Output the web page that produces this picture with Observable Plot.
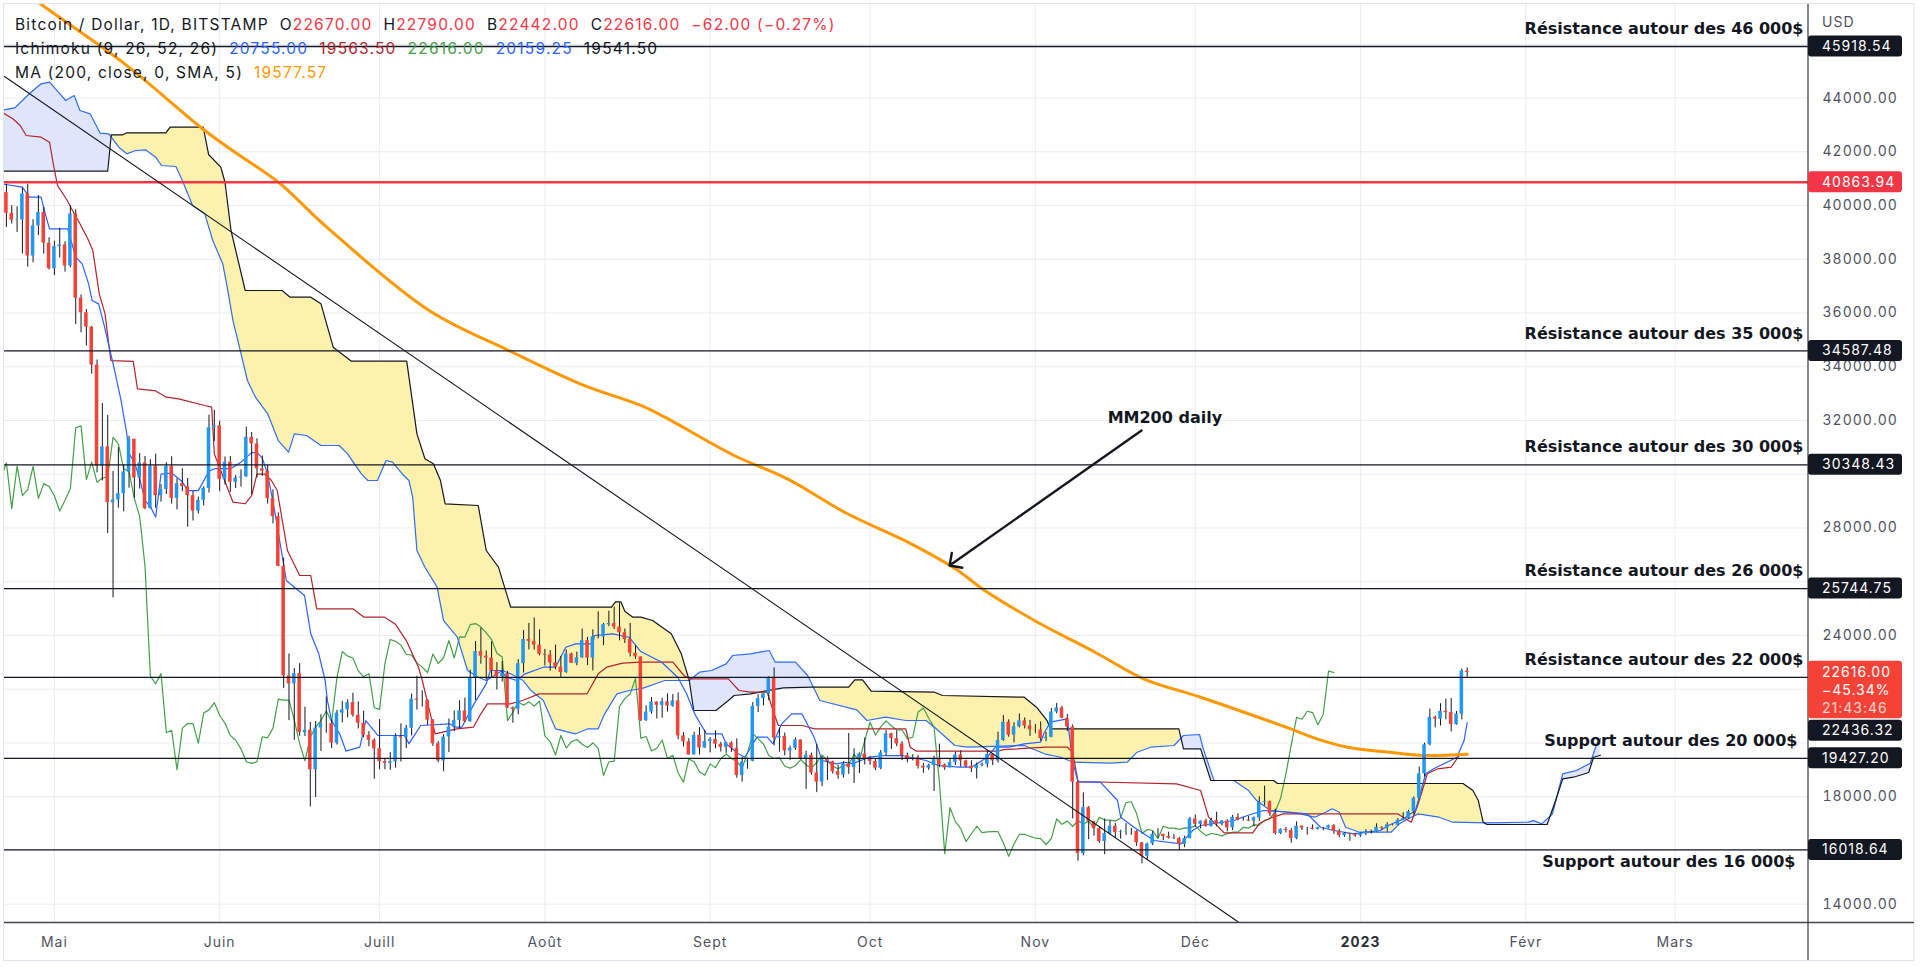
<!DOCTYPE html>
<html><head><meta charset="utf-8">
<script src="https://cdn.jsdelivr.net/npm/d3@7"></script>
<script src="https://cdn.jsdelivr.net/npm/@observablehq/plot@0.6"></script>
<style>
html,body{margin:0;padding:0;background:#fff;overflow:hidden;}
#wrap{position:relative;width:1920px;height:967px;}
#legend{position:absolute;left:15px;top:13px;font-family:Inter,sans-serif;font-size:15.5px;letter-spacing:1.2px;color:#131722;pointer-events:none;}
#legend div{height:24px;line-height:24px;white-space:nowrap;}
#legend span{margin-right:11px;}
#legend span.k{margin-right:0;}
svg [aria-label^="x-axis"] text, svg [aria-label^="y-axis"] text{letter-spacing:1px;}
</style></head>
<body><div id="wrap"><div id="chart"></div><div id="legend"></div></div>
<script>
// ---------- DATA ----------
const candles = [
["2022-04-21",41373,42976,39800,40480],["2022-04-22",40480,40800,39180,39710],["2022-04-23",39710,39990,39310,39450],["2022-04-24",39450,39950,39000,39460],["2022-04-25",39460,40630,38200,40430],["2022-04-26",40430,40790,37710,38120],["2022-04-27",38120,39470,37870,39240],["2022-04-28",39240,40370,38880,39740],["2022-04-29",39740,39930,38190,38600],["2022-04-30",38600,38800,37600,37650],
["2022-05-01",37650,38670,37390,38470],["2022-05-02",38470,39150,38050,38530],["2022-05-03",38530,38650,37520,37750],["2022-05-04",37750,39990,37680,39690],["2022-05-05",39690,39840,35570,36550],["2022-05-06",36550,36670,35260,36010],["2022-05-07",36010,36130,34770,35470],["2022-05-08",35470,35500,33720,34060],["2022-05-09",34060,34250,30050,30300],["2022-05-10",30300,32630,29750,31020],["2022-05-11",31020,32190,27790,28940],["2022-05-12",28940,30100,25400,29040],["2022-05-13",29040,30990,28740,29280],["2022-05-14",29280,30330,28600,30080],["2022-05-15",30080,31410,29480,31300],["2022-05-16",31300,31300,29100,29860],["2022-05-17",29860,30770,29450,30420],["2022-05-18",30420,30660,28680,28720],["2022-05-19",28720,30540,28700,30300],["2022-05-20",30300,30750,28730,29200],["2022-05-21",29200,29610,28960,29430],["2022-05-22",29430,30430,29250,30290],["2022-05-23",30290,30650,28890,29100],["2022-05-24",29100,29830,28670,29650],["2022-05-25",29650,30200,29350,29540],["2022-05-26",29540,29840,28030,29200],["2022-05-27",29200,29360,28260,28630],["2022-05-28",28630,29150,28520,29030],["2022-05-29",29030,29530,28820,29470],["2022-05-30",29470,32200,29300,31730],["2022-05-31",31730,32380,31220,31800],
["2022-06-01",31800,31970,29350,29800],["2022-06-02",29800,30640,29600,30450],["2022-06-03",30450,30660,29320,29700],["2022-06-04",29700,29950,29470,29860],["2022-06-05",29860,30160,29520,29900],["2022-06-06",29900,31750,29890,31370],["2022-06-07",31370,31550,29230,31130],["2022-06-08",31130,31320,29860,30200],["2022-06-09",30200,30680,29920,30110],["2022-06-10",30110,30330,28890,29090],["2022-06-11",29090,29420,28150,28420],["2022-06-12",28420,28560,26560,26570],["2022-06-13",26570,26880,22030,22490],["2022-06-14",22490,23310,20830,22200],["2022-06-15",22200,22770,20100,22580],["2022-06-16",22580,22950,20250,20380],["2022-06-17",20380,21330,20240,20470],["2022-06-18",20470,20760,17620,19000],["2022-06-19",19000,20800,17970,20550],["2022-06-20",20550,21050,19680,20720],["2022-06-21",20720,21710,20360,20720],["2022-06-22",20720,20860,19790,19990],["2022-06-23",19990,21210,19920,21110],["2022-06-24",21110,21550,20750,21230],["2022-06-25",21230,21600,20930,21500],["2022-06-26",21500,21850,20960,21030],["2022-06-27",21030,21530,20520,20730],["2022-06-28",20730,21180,20190,20280],["2022-06-29",20280,20420,19860,20100],["2022-06-30",20100,20160,18650,19780],
["2022-07-01",19780,20870,19000,19300],["2022-07-02",19300,19420,19000,19240],["2022-07-03",19240,19640,18980,19300],["2022-07-04",19300,20340,19060,20230],["2022-07-05",20230,20710,19290,20190],["2022-07-06",20190,20650,19790,20550],["2022-07-07",20550,21820,20260,21630],["2022-07-08",21630,22480,21220,21590],["2022-07-09",21590,21940,21330,21590],["2022-07-10",21590,21600,20660,20850],["2022-07-11",20850,20870,19870,19970],["2022-07-12",19970,20050,19260,19330],["2022-07-13",19330,20310,18930,20220],["2022-07-14",20220,20890,19640,20590],["2022-07-15",20590,21190,20420,20830],["2022-07-16",20830,21570,20530,21190],["2022-07-17",21190,21670,20760,20790],["2022-07-18",20790,22710,20770,22430],["2022-07-19",22430,23770,21580,23400],["2022-07-20",23400,24270,22930,23230],["2022-07-21",23230,23420,22340,23160],["2022-07-22",23160,23760,22450,22680],["2022-07-23",22680,22990,21970,22460],["2022-07-24",22460,23030,22270,22580],["2022-07-25",22580,22660,21280,21310],["2022-07-26",21310,21340,20730,21250],["2022-07-27",21250,23100,21050,22950],["2022-07-28",22950,24180,22600,23850],["2022-07-29",23850,24450,23460,23780],["2022-07-30",23780,24650,23450,23640],["2022-07-31",23640,24210,23240,23300],
["2022-08-01",23300,23480,22860,23270],["2022-08-02",23270,23440,22670,22980],["2022-08-03",22980,23640,22720,22820],["2022-08-04",22820,23220,22440,22620],["2022-08-05",22620,23460,22590,23310],["2022-08-06",23310,23340,22960,22960],["2022-08-07",22960,23380,22870,23170],["2022-08-08",23170,24240,23150,23810],["2022-08-09",23810,23930,22880,23160],["2022-08-10",23160,24210,22680,23950],["2022-08-11",23950,24880,23870,23940],["2022-08-12",23940,24450,23620,24400],["2022-08-13",24400,24900,24330,24440],["2022-08-14",24440,25050,24220,24310],["2022-08-15",24310,25200,23800,24100],["2022-08-16",24100,24240,23700,23850],["2022-08-17",23850,24450,23200,23340],["2022-08-18",23340,23610,23110,23200],["2022-08-19",23200,23200,20790,20830],["2022-08-20",20830,21380,20800,21150],["2022-08-21",21150,21690,21070,21520],["2022-08-22",21520,21530,20890,21400],["2022-08-23",21400,21660,20920,21530],["2022-08-24",21530,21830,21150,21370],["2022-08-25",21370,21800,21330,21560],["2022-08-26",21560,21860,20120,20260],["2022-08-27",20260,20380,19850,20040],["2022-08-28",20040,20160,19550,19550],["2022-08-29",19550,20400,19550,20280],["2022-08-30",20280,20570,19550,19810],["2022-08-31",19810,20470,19800,20050],
["2022-09-01",20050,20200,19630,20130],["2022-09-02",20130,20450,19780,19950],["2022-09-03",19950,20020,19660,19830],["2022-09-04",19830,20010,19610,20000],["2022-09-05",20000,20040,19650,19800],["2022-09-06",19800,20150,18690,18790],["2022-09-07",18790,19460,18540,19290],["2022-09-08",19290,19430,19020,19320],["2022-09-09",19320,21500,19300,21360],["2022-09-10",21360,21790,21130,21650],["2022-09-11",21650,21830,21380,21830],["2022-09-12",21830,22460,21570,22400],["2022-09-13",22400,22790,19890,20180],["2022-09-14",20180,20550,19660,20240],["2022-09-15",20240,20370,19520,19700],["2022-09-16",19700,19880,19350,19800],["2022-09-17",19800,20190,19720,20110],["2022-09-18",20110,20110,19370,19420],["2022-09-19",19420,19690,18270,19540],["2022-09-20",19540,19620,18800,18880],["2022-09-21",18880,19950,18150,18540],["2022-09-22",18540,19490,18370,19400],["2022-09-23",19400,19480,18600,19300],["2022-09-24",19300,19320,18840,18930],["2022-09-25",18930,19170,18650,18800],["2022-09-26",18800,19300,18690,19220],["2022-09-27",19220,20350,18830,19080],["2022-09-28",19080,19780,18490,19410],["2022-09-29",19410,19630,18860,19590],["2022-09-30",19590,20180,19180,19420],
["2022-10-01",19420,19480,19170,19310],["2022-10-02",19310,19400,18970,19060],["2022-10-03",19060,19720,19000,19630],["2022-10-04",19630,20460,19520,20340],["2022-10-05",20340,20360,19760,20160],["2022-10-06",20160,20450,19860,19960],["2022-10-07",19960,20050,19340,19530],["2022-10-08",19530,19620,19260,19420],["2022-10-09",19420,19560,19330,19450],["2022-10-10",19450,19530,19030,19130],["2022-10-11",19130,19240,18870,19060],["2022-10-12",19060,19210,18980,19160],["2022-10-13",19160,19510,18190,19380],["2022-10-14",19380,19950,19080,19180],["2022-10-15",19180,19220,18980,19070],["2022-10-16",19070,19420,19070,19270],["2022-10-17",19270,19660,19160,19550],["2022-10-18",19550,19700,19100,19330],["2022-10-19",19330,19360,19080,19130],["2022-10-20",19130,19340,18900,19040],["2022-10-21",19040,19250,18660,19160],["2022-10-22",19160,19260,19110,19200],["2022-10-23",19200,19700,19070,19570],["2022-10-24",19570,19600,19160,19330],["2022-10-25",19330,20400,19250,20090],["2022-10-26",20090,21020,20060,20770],["2022-10-27",20770,20860,20210,20290],["2022-10-28",20290,20750,20000,20600],["2022-10-29",20600,21080,20560,20820],["2022-10-30",20820,20930,20520,20630],["2022-10-31",20630,20840,20240,20490],
["2022-11-01",20490,20690,20340,20480],["2022-11-02",20480,20780,20060,20160],["2022-11-03",20160,20390,20050,20210],["2022-11-04",20210,21280,20190,21150],["2022-11-05",21150,21470,21080,21300],["2022-11-06",21300,21360,20900,20920],["2022-11-07",20920,21060,20420,20590],["2022-11-08",20590,20670,17170,18540],["2022-11-09",18540,18590,15600,15880],["2022-11-10",15880,18140,15800,17590],["2022-11-11",17590,17630,16400,17070],["2022-11-12",17070,17080,16530,16810],["2022-11-13",16810,16890,16260,16330],["2022-11-14",16330,17170,15840,16620],["2022-11-15",16620,17100,16570,16900],["2022-11-16",16900,17000,16440,16660],["2022-11-17",16660,16750,16420,16690],["2022-11-18",16690,17000,16560,16700],["2022-11-19",16700,16820,16560,16700],["2022-11-20",16700,16740,16150,16280],["2022-11-21",16280,16300,15500,15780],["2022-11-22",15780,16270,15630,16240],["2022-11-23",16240,16700,16180,16600],["2022-11-24",16600,16810,16460,16600],["2022-11-25",16600,16600,16360,16520],["2022-11-26",16520,16680,16420,16460],["2022-11-27",16460,16600,16400,16440],["2022-11-28",16440,16480,16000,16220],["2022-11-29",16220,16530,16100,16440],["2022-11-30",16440,17230,16430,17170],
["2022-12-01",17170,17320,16860,16970],["2022-12-02",16970,17100,16800,17090],["2022-12-03",17090,17160,16860,16890],["2022-12-04",16890,17200,16870,17110],["2022-12-05",17110,17420,16880,16970],["2022-12-06",16970,17110,16910,17090],["2022-12-07",17090,17140,16690,16840],["2022-12-08",16840,17300,16740,17230],["2022-12-09",17230,17360,17100,17130],["2022-12-10",17130,17230,17090,17130],["2022-12-11",17130,17260,17070,17090],["2022-12-12",17090,17240,16880,17210],["2022-12-13",17210,18000,17080,17780],["2022-12-14",17780,18390,17650,17810],["2022-12-15",17810,17840,17270,17360],["2022-12-16",17360,17530,16570,16630],["2022-12-17",16630,16800,16590,16780],["2022-12-18",16780,16850,16650,16740],["2022-12-19",16740,16810,16270,16440],["2022-12-20",16440,17060,16400,16900],["2022-12-21",16900,16910,16740,16830],["2022-12-22",16830,16860,16570,16830],["2022-12-23",16830,16950,16760,16780],["2022-12-24",16780,16860,16760,16840],["2022-12-25",16840,16860,16730,16830],["2022-12-26",16830,16940,16800,16920],["2022-12-27",16920,16960,16600,16710],["2022-12-28",16710,16780,16470,16550],["2022-12-29",16550,16660,16490,16630],["2022-12-30",16630,16640,16340,16600],["2022-12-31",16600,16640,16490,16540],
["2023-01-01",16540,16640,16490,16620],["2023-01-02",16620,16770,16550,16680],["2023-01-03",16680,16760,16610,16680],["2023-01-04",16680,16990,16660,16860],["2023-01-05",16860,16880,16760,16830],["2023-01-06",16830,17030,16680,16950],["2023-01-07",16950,16960,16910,16940],["2023-01-08",16940,17180,16920,17120],["2023-01-09",17120,17400,17100,17180],["2023-01-10",17180,17490,17150,17440],["2023-01-11",17440,17990,17320,17940],["2023-01-12",17940,19100,17920,18850],["2023-01-13",18850,19990,18730,19930],["2023-01-14",19930,21260,19890,20950],["2023-01-15",20950,21000,20560,20880],["2023-01-16",20880,21460,20630,21180],["2023-01-17",21180,21630,20860,21130],["2023-01-18",21130,21650,20410,20680],["2023-01-19",20680,21170,20660,21070],["2023-01-20",21070,22750,20860,22678],["2023-01-21",22670,22790,22442,22616]
];

const tenkan = [
["2022-04-21",40808],["2022-04-25",40683],["2022-04-26T07:00",40311],["2022-04-28T12:00",40311],["2022-04-29T07:00",39691],["2022-04-30T02:00",39133],["2022-05-03T12:00",39133],["2022-05-05",38078],["2022-05-06T05:00",37830],["2022-05-07T10:00",37086],["2022-05-08T02:00",36465],["2022-05-09T07:00",36340],["2022-05-10T10:00",35472],["2022-05-11T14:00",34482],["2022-05-12T07:00",33861],["2022-05-13T12:00",32744],["2022-05-14T14:00",31504],["2022-05-15",30765],["2022-05-16",30450],["2022-05-17",29825],["2022-05-18",29015],["2022-05-19",28795],["2022-05-20",28405],["2022-05-21",30005],["2022-05-23",30045],["2022-05-25",29720],["2022-05-26",29390],["2022-05-28",29390],["2022-05-30",30115],["2022-05-31",30205],["2022-06-03",30205],["2022-06-04",30320],["2022-06-05",30450],["2022-06-07",30805],["2022-06-08",30805],["2022-06-09",30600],["2022-06-10",30000],["2022-06-11T10:00",28527],["2022-06-13T12:00",26044],["2022-06-15",25796],["2022-06-16T22:00",25486],["2022-06-18T02:00",24061],["2022-06-19T14:00",23316],["2022-06-20T19:00",22323],["2022-06-21T05:00",21578],["2022-06-22",20834],["2022-06-23T12:00",20339],["2022-06-24T17:00",19692],["2022-06-27T07:00",19841],["2022-06-28T10:00",20834],["2022-06-30T17:00",20276],["2022-07-05T17:00",20276],["2022-07-06T12:00",19967],["2022-07-08T17:00",20648],["2022-07-14T02:00",20710],["2022-07-15T05:00",20585],["2022-07-16T10:00",20585],["2022-07-18T17:00",21454],["2022-07-21",22198],["2022-07-21T19:00",22695],["2022-07-23T17:00",22695],["2022-07-24T19:00",22446],["2022-07-26T17:00",22323],["2022-07-28T07:00",22571],["2022-07-31T17:00",22818],["2022-08-03",22818],["2022-08-04T22:00",23562],["2022-08-06T19:00",23686],["2022-08-10",23686],["2022-08-10T07:00",23997],["2022-08-13T17:00",24061],["2022-08-16T19:00",23934],["2022-08-19",23400],["2022-08-22T22:00",23004],["2022-08-25T22:00",22446],["2022-08-27T14:00",21827],["2022-08-29T02:00",21083],["2022-08-31T07:00",20339],["2022-09-03T05:00",20339],["2022-09-04",19967],["2022-09-06T07:00",19595],["2022-09-07T12:00",19468],["2022-09-09",19967],["2022-09-09T19:00",20214],["2022-09-11T17:00",20214],["2022-09-12T19:00",19967],["2022-09-14T10:00",20710],["2022-09-16T07:00",21083],["2022-09-18T05:00",21083],["2022-09-20T12:00",20214],["2022-09-22",19345],["2022-09-24T17:00",19222],["2022-09-26T05:00",19280],["2022-09-27T17:00",19222],["2022-09-30T19:00",19468],["2022-10-03T22:00",19531],["2022-10-07",19531],["2022-10-08T12:00",19468],["2022-10-11T12:00",19345],["2022-10-13T19:00",19159],["2022-10-17T17:00",19096],["2022-10-20",19096],["2022-10-23",19468],["2022-10-24T12:00",19841],["2022-10-27",19841],["2022-10-29T22:00",19967],["2022-11-02",20029],["2022-11-02T14:00",20339],["2022-11-03T19:00",20771],["2022-11-07",20895],["2022-11-08",19300],["2022-11-09",18538],["2022-11-13T05:00",18538],["2022-11-16T10:00",17857],["2022-11-17",17236],["2022-11-19T12:00",16863],["2022-11-23T07:00",16368],["2022-11-28T07:00",16245],["2022-11-30T12:00",16740],["2022-12-02",16926],["2022-12-08T07:00",17112],["2022-12-10T19:00",17299],["2022-12-13T19:00",17485],["2022-12-18T22:00",17421],["2022-12-22",17361],["2022-12-24T12:00",16863],["2022-12-27",16740],["2022-12-30T17:00",16616],["2023-01-02T07:00",16677],["2023-01-04T17:00",16740],["2023-01-06T14:00",16963],["2023-01-09T02:00",17175],["2023-01-11T07:00",17485],["2023-01-13T05:00",18850],["2023-01-14T17:00",19036],["2023-01-17T05:00",19282],["2023-01-19T02:00",19468],["2023-01-20T10:00",20090],["2023-01-21",20755]
];

const kijun = [
["2022-04-21",43493],["2022-04-23T05:00",43227],["2022-04-24T14:00",42977],["2022-04-25T17:00",42605],["2022-04-28T12:00",42543],["2022-04-30T02:00",42357],["2022-04-30T19:00",41552],["2022-05-01T14:00",40745],["2022-05-03T10:00",40187],["2022-05-04T05:00",39878],["2022-05-05T19:00",39319],["2022-05-07T10:00",38698],["2022-05-08T05:00",38326],["2022-05-09T10:00",36713],["2022-05-10T12:00",35969],["2022-05-11T14:00",34231],["2022-05-15T19:00",34200],["2022-05-16T14:00",33179],["2022-05-20",33100],["2022-05-22",32866],["2022-05-24T07:00",32806],["2022-05-29T05:00",32557],["2022-05-30T12:00",32500],["2022-05-31",30750],["2022-06-03T12:00",28960],["2022-06-05T19:00",28900],["2022-06-07",29208],["2022-06-08",30000],["2022-06-09T12:00",30000],["2022-06-10T17:00",29766],["2022-06-11T19:00",29394],["2022-06-13T17:00",27161],["2022-06-16",26230],["2022-06-18T02:00",26230],["2022-06-19T05:00",24990],["2022-06-26",24990],["2022-06-28T02:00",24679],["2022-07-01T22:00",24679],["2022-07-03T22:00",24430],["2022-07-06",23810],["2022-07-08T07:00",22818],["2022-07-09",22323],["2022-07-10T05:00",21329],["2022-07-11T10:00",20339],["2022-07-15T12:00",20525],["2022-07-18T14:00",20585],["2022-07-20",21083],["2022-07-21T05:00",21454],["2022-07-25T12:00",21454],["2022-07-27T19:00",21578],["2022-07-30T22:00",21827],["2022-08-08T22:00",21827],["2022-08-11",22571],["2022-08-12T14:00",22818],["2022-08-15T14:00",22967],["2022-08-19",23004],["2022-08-25",23004],["2022-08-27T02:00",22509],["2022-08-28T02:00",22385],["2022-09-04T10:00",22385],["2022-09-06T10:00",21951],["2022-09-08T14:00",21888],["2022-09-11T17:00",21888],["2022-09-13",21083],["2022-09-13T19:00",20648],["2022-09-18T07:00",20648],["2022-09-20T14:00",20525],["2022-10-07T17:00",20525],["2022-10-08T12:00",19841],["2022-10-09T17:00",19692],["2022-10-25",19692],["2022-10-26",19750],["2022-11-03",19841],["2022-11-07",19841],["2022-11-08",19655],["2022-11-09",18564],["2022-11-27T12:00",18478],["2022-12-02",18229],["2022-12-03T12:00",17236],["2022-12-06T10:00",16650],["2022-12-11T19:00",16650],["2022-12-13",17000],["2022-12-15",17200],["2022-12-17T12:00",17361],["2023-01-07T22:00",17361],["2023-01-10T12:00",17050],["2023-01-11T17:00",17671],["2023-01-13",18500],["2023-01-13T12:00",18850],["2023-01-15T12:00",19036],["2023-01-18",19099],["2023-01-19T12:00",19531],["2023-01-21",19563.5]
];

const senkouA = [
["2022-04-21T12:00",43562],["2022-04-23T14:00",43636],["2022-04-26T07:00",44158],["2022-04-28T12:00",44530],["2022-04-30T02:00",44590],["2022-05-01T05:00",44343],["2022-05-03T03:00",43908],["2022-05-04T17:00",44094],["2022-05-05T19:00",43536],["2022-05-07T17:00",43412],["2022-05-09T14:00",42691],["2022-05-11T05:00",42667],["2022-05-13T02:00",42171],["2022-05-14T14:00",41924],["2022-05-16T05:00",42047],["2022-05-18T02:00",42072],["2022-05-20",41799],["2022-05-21T02:00",41490],["2022-05-23T19:00",41452],["2022-05-25",40931],["2022-05-26T22:00",40001],["2022-05-29T05:00",39691],["2022-05-30T17:00",38697],["2022-06-01T14:00",37830],["2022-06-02T10:00",36960],["2022-06-03T12:00",35720],["2022-06-04T17:00",34727],["2022-06-06T05:00",33488],["2022-06-07T17:00",32866],["2022-06-10",32248],["2022-06-12",31254],["2022-06-13T22:00",30819],["2022-06-15",31504],["2022-06-17T07:00",31440],["2022-06-20",31068],["2022-06-23T10:00",31068],["2022-06-25",30759],["2022-06-27T14:00",30014],["2022-06-28T19:00",29766],["2022-06-30T14:00",29766],["2022-07-02T05:00",30511],["2022-07-03T10:00",30450],["2022-07-05T07:00",30000],["2022-07-06T12:00",29766],["2022-07-07T05:00",29145],["2022-07-08",27161],["2022-07-09T12:00",26540],["2022-07-11T19:00",25796],["2022-07-13",24555],["2022-07-15T14:00",23934],["2022-07-17T12:00",22695],["2022-07-19T12:00",22446],["2022-07-21",22323],["2022-07-24",22695],["2022-07-25T14:00",22571],["2022-07-27T22:00",22323],["2022-07-29T10:00",21951],["2022-07-31T17:00",21578],["2022-08-03",20525],["2022-08-06T19:00",20339],["2022-08-09T02:00",20525],["2022-08-11",20525],["2022-08-12T05:00",21083],["2022-08-14T12:00",21827],["2022-08-16T19:00",21951],["2022-08-19",22013],["2022-08-23T12:00",22323],["2022-08-28T02:00",22323],["2022-08-30",22632],["2022-09-01T07:00",22695],["2022-09-04",22943],["2022-09-05T05:00",23253],["2022-09-08T14:00",23316],["2022-09-12T02:00",23440],["2022-09-13T05:00",23004],["2022-09-17",23004],["2022-09-19T07:00",22509],["2022-09-21T14:00",21578],["2022-09-28T12:00",21232],["2022-09-30T10:00",20834],["2022-10-03T22:00",20957],["2022-10-07T17:00",20834],["2022-10-11T12:00",20834],["2022-10-13T02:00",20585],["2022-10-16T22:00",19904],["2022-10-19T05:00",19841],["2022-10-29T22:00",19904],["2022-11-02T17:00",19595],["2022-11-05T19:00",19468],["2022-11-08T02:00",19282],["2022-11-15",19245],["2022-11-18T05:00",19282],["2022-11-20T02:00",19655],["2022-11-22T14:00",19841],["2022-11-27",19904],["2022-11-28T19:00",20276],["2022-12-01T19:00",20313],["2022-12-02T12:00",19780],["2022-12-04T12:00",18601],["2022-12-08T05:00",18601],["2022-12-11",18229],["2022-12-12T12:00",17857],["2022-12-15T02:00",17485],["2022-12-19T14:00",17400],["2022-12-23T10:00",17236],["2022-12-25T10:00",17421],["2022-12-26T17:00",17548],["2022-12-28",17421],["2022-12-29T05:00",16863],["2022-12-31T19:00",16677],["2023-01-06T17:00",16677],["2023-01-08T07:00",16989],["2023-01-10T12:00",17236],["2023-01-11T19:00",17361],["2023-01-15T17:00",17236],["2023-01-18T07:00",17050],["2023-01-24T17:00",17027],["2023-02-01T12:00",17050],["2023-02-02T10:00",17110],["2023-02-04",16989],["2023-02-06",17361],["2023-02-07T22:00",18850],["2023-02-10T12:00",18973],["2023-02-13T02:00",19245],["2023-02-14T02:00",19841],["2023-02-15",20159.25]
];

const senkouB = [
["2022-04-21T12:00",41277],["2022-05-11",41277],["2022-05-11T16:00",42632],["2022-05-13T20:00",42632],["2022-05-14T14:00",42706],["2022-05-21T22:00",42706],["2022-05-22T17:00",42915],["2022-05-28T22:00",42915],["2022-05-29T22:00",41900],["2022-06-01T05:00",41427],["2022-06-02",40867],["2022-06-03T03:00",39070],["2022-06-05T19:00",36837],["2022-06-12T17:00",36837],["2022-06-14T05:00",36588],["2022-06-18T02:00",36588],["2022-06-20",36340],["2022-06-22T07:00",34727],["2022-06-25T17:00",34206],["2022-07-06T02:00",34206],["2022-07-08",31504],["2022-07-09T12:00",30574],["2022-07-11T02:00",30388],["2022-07-12T10:00",29766],["2022-07-13T07:00",28899],["2022-07-19T12:00",28836],["2022-07-21",27161],["2022-07-23T07:00",26540],["2022-07-25T14:00",25051],["2022-08-13T12:00",25051],["2022-08-14T06:00",25250],["2022-08-15T06:00",25250],["2022-08-16",24900],["2022-08-17T12:00",24679],["2022-08-19",24679],["2022-08-21T05:00",24555],["2022-08-24T17:00",24061],["2022-08-26T14:00",23316],["2022-08-28T02:00",22323],["2022-08-28T22:00",21206],["2022-09-02T02:00",21206],["2022-09-04T10:00",21578],["2022-09-05T12:00",21764],["2022-09-08T14:00",21827],["2022-09-14T17:00",22051],["2022-09-20T02:00",22073],["2022-09-27",22073],["2022-09-28T03:00",22349],["2022-09-29T14:00",22349],["2022-10-01T05:00",21925],["2022-10-13T02:00",21888],["2022-10-14T14:00",21765],["2022-10-29T22:00",21701],["2022-11-01T05:00",21329],["2022-11-03T05:00",20834],["2022-11-03T19:00",20525],["2022-11-27T22:00",20525],["2022-11-28T19:00",19780],["2022-12-02",19780],["2022-12-03T22:00",18601],["2022-12-15T17:00",18601],["2022-12-16T10:00",18490],["2023-01-20T05:00",18490],["2023-01-22T02:00",18229],["2023-01-23T02:00",17857],["2023-01-24",17050],["2023-01-24T17:00",16964],["2023-02-05",16964],["2023-02-06T14:00",17857],["2023-02-07T22:00",18664],["2023-02-09T22:00",18724],["2023-02-12T19:00",18899],["2023-02-13T17:00",19468],["2023-02-15",19541.5]
];

const ma200 = [
["2022-04-21",48640],["2022-04-28T14:00",47481],["2022-05-14",45300],["2022-05-29T05:00",42792],["2022-06-04T07:00",41925],["2022-06-12",40868],["2022-06-21T02:00",39193],["2022-07-10T07:00",36093],["2022-07-25T05:00",34604],["2022-08-07T14:00",33365],["2022-08-19",32558],["2022-08-23T12:00",32122],["2022-09-05T12:00",30697],["2022-09-15T12:00",29829],["2022-09-26T05:00",28586],["2022-10-08T17:00",27410],["2022-10-17",26480],["2022-10-22T12:00",25672],["2022-11-01T10:00",24493],["2022-11-12T05:00",23376],["2022-11-21T07:00",22386],["2022-12-02",21701],["2022-12-18",20585],["2022-12-23T19:00",20153],["2022-12-29T14:00",19841],["2023-01-06T10:00",19655],["2023-01-13",19531],["2023-01-21",19577.57]
];

const levelValues = [45918.54, 34587.48, 30348.43, 25744.75, 22436.32, 19427.20, 16018.64];
const levelTexts = ["Résistance autour des 46 000$","Résistance autour des 35 000$","Résistance autour des 30 000$","Résistance autour des 26 000$","Résistance autour des 22 000$","Support autour des 20 000$","Support autour des 16 000$"];
const redLevel = 40863.94;
const trendDates = ["2022-04-21T15:20","2022-12-09T05:00"];
const trendValues = [44802, 13317];
const arrowFrom = ["2022-11-20T22:00", 31627];
const arrowTo = ["2022-10-15T22:00", 26603];
const noteText = ["MM200 daily", "2022-11-25T07:00", 32111];
const monthTicks = ["2022-05-01","2022-06-01","2022-07-01","2022-08-01","2022-09-01","2022-10-01","2022-11-01","2022-12-01","2023-01-01","2023-02-01","2023-03-01"];
const monthLabels = ["Mai","Juin","Juill","Août","Sept","Oct","Nov","Déc","2023","Févr","Mars"];
const gridTicks = d3.range(14000, 46001, 2000);
const axisTicks = [14000, 18000, 24000, 28000, 32000, 34000, 36000, 38000, 40000, 42000, 44000];
const xDomain = ["2022-04-21T15:22","2023-03-26T00:30"];
const yDomain = [13317, 47481];
const lastTagLines = ["22616.00","−45.34%","21:43:46"];
const legendTitle = "Bitcoin / Dollar, 1D, BITSTAMP";
const ichiTitle = "Ichimoku (9, 26, 52, 26)";
const ichiValues = ["20755.00","19563.50","22616.00","20159.25","19541.50"];
const maTitle = "MA (200, close, 0, SMA, 5)";
const maValue = "19577.57";
const changeText = "−62.00 (−0.27%)";

// ---------- HELPERS ----------
const parse = s => new Date(s.length === 10 ? s + "T00:00:00Z" : s + ":00Z");
const DAY = 864e5;
const bars = candles.map(([d,o,h,l,c]) => ({date: parse(d), open:o, high:h, low:l, close:c}));
const ser = arr => arr.map(([d,v]) => ({date: parse(d), value: v}));
const A = ser(senkouA), B = ser(senkouB);
const xd = xDomain.map(parse);
const chikou = bars.map(b => ({date: new Date(+b.date - 25*DAY), value: b.close})).filter(d => +d.date >= +xd[0] - DAY);
const trend = trendDates.map((d,i) => ({date: parse(d), value: trendValues[i]}));
const labelOf = new Map(monthTicks.map((d,i) => [+parse(d), monthLabels[i]]));
const levels = levelValues.map((v,i) => ({value: v, label: levelTexts[i], i}));

const UP = "#2196f3", DOWN = "#f44336", GRID = "#e8edf4", INK = "#131722";
const annoFont = "'DejaVu Sans', Verdana, sans-serif";

const chart = Plot.plot({
  width: 1920, height: 967,
  marginLeft: 4, marginRight: 112, marginTop: 4, marginBottom: 45,
  style: {fontFamily: "Inter, sans-serif", fontSize: "14px", color: "#50535e", background: "white"},
  x: {type: "utc", domain: xd, ticks: monthTicks.map(parse), tickFormat: d => labelOf.get(+d), tickSize: 0, tickPadding: 15, label: null},
  y: {domain: yDomain, axis: "right", ticks: axisTicks, tickFormat: d3.format(".2f"), tickSize: 0, tickPadding: 14, label: null},
  marks: [
    Plot.ruleY(gridTicks, {stroke: GRID, strokeWidth: 1}),
    Plot.ruleX(monthTicks.map(parse), {stroke: GRID, strokeWidth: 1}),
    // cloud helpers (clipped afterwards)
    Plot.areaY(A, {x: "date", y1: yDomain[0], y2: "value", fill: "#dfe6fb"}),
    Plot.areaY(B, {x: "date", y1: "value", y2: yDomain[1], fill: "none"}),
    Plot.areaY(B, {x: "date", y1: yDomain[0], y2: "value", fill: "#fcf2ae"}),
    Plot.areaY(A, {x: "date", y1: "value", y2: yDomain[1], fill: "none"}),
    // ichimoku lines
    Plot.line(chikou, {x: "date", y: "value", stroke: "#43a047", strokeWidth: 1.2, clip: true}),
    Plot.line(A, {x: "date", y: "value", stroke: "#2f6df6", strokeWidth: 1.2}),
    Plot.line(B, {x: "date", y: "value", stroke: INK, strokeWidth: 1.2}),
    Plot.line(ser(kijun), {x: "date", y: "value", stroke: "#b2242c", strokeWidth: 1.2, clip: true}),
    Plot.line(ser(tenkan), {x: "date", y: "value", stroke: "#2962ff", strokeWidth: 1.2, clip: true}),
    Plot.line(ser(ma200), {x: "date", y: "value", stroke: "#ff9800", strokeWidth: 3, curve: "catmull-rom", clip: true}),
    // candles
    Plot.ruleX(bars, {x: "date", y1: "low", y2: "high", stroke: INK, strokeWidth: 1, clip: true}),
    Plot.rect(bars, {x1: d => new Date(+d.date - 0.33*DAY), x2: d => new Date(+d.date + 0.33*DAY), y1: "open", y2: "close", fill: d => d.close >= d.open ? UP : DOWN, clip: true}),
    // drawings
    Plot.ruleY(levelValues, {stroke: INK, strokeWidth: 1.3}),
    Plot.ruleY([redLevel], {stroke: "#f23645", strokeWidth: 2.4}),
    Plot.line(trend, {x: "date", y: "value", stroke: INK, strokeWidth: 1.1}),
    Plot.arrow([0], {x1: () => parse(arrowFrom[0]), y1: () => arrowFrom[1], x2: () => parse(arrowTo[0]), y2: () => arrowTo[1], stroke: INK, strokeWidth: 2.4, headLength: 8, headAngle: 90}),
    Plot.text([noteText], {x: d => parse(d[1]), y: d => d[2], text: d => d[0], fontFamily: annoFont, fontWeight: "bold", fontSize: 16, fill: INK}),
    Plot.text(levels.filter(d => d.i < 5), {y: "value", text: "label", frameAnchor: "right", textAnchor: "end", dx: -5, dy: -17.5, fontFamily: annoFont, fontWeight: "bold", fontSize: 16, fill: INK}),
    Plot.text(levels.filter(d => d.i === 5), {y: "value", text: "label", frameAnchor: "right", textAnchor: "end", dx: -11, dy: -17, fontFamily: annoFont, fontWeight: "bold", fontSize: 16, fill: INK}),
    Plot.text(levels.filter(d => d.i === 6), {y: "value", text: "label", frameAnchor: "right", textAnchor: "end", dx: -13, dy: 11.5, fontFamily: annoFont, fontWeight: "bold", fontSize: 16, fill: INK})
  ]
});

document.getElementById("chart").appendChild(chart);

// ---------- cloud clipping ----------
const svg = d3.select(chart);
const areas = chart.querySelectorAll('g[aria-label="area"] path');
const defs = svg.insert("defs", ":first-child");
function clipFrom(pathEl, id) {
  defs.append("clipPath").attr("id", id).append("path").attr("d", pathEl.getAttribute("d"));
  pathEl.parentNode.remove();
}
if (areas.length >= 4) {
  clipFrom(areas[1], "aboveB");
  clipFrom(areas[3], "aboveA");
  d3.select(areas[0].parentNode).attr("clip-path", "url(#aboveB)");
  d3.select(areas[2].parentNode).attr("clip-path", "url(#aboveA)");
}

// bold "2023"
svg.selectAll("text").filter(function(){ return this.textContent === "2023"; }).attr("font-weight", "bold").attr("fill", "#2a2e39");

// ---------- chrome & price tags ----------
const ys = chart.scale("y");
const right = 1920 - 112, bottom = 967 - 45;
const chrome = svg.append("g").attr("text-anchor", "start");
chrome.append("rect").attr("x", 3.5).attr("y", 3.5).attr("width", 1910.5).attr("height", 957).attr("fill", "none").attr("stroke", "#e0e3eb");
chrome.append("line").attr("x1", right).attr("x2", right).attr("y1", 4).attr("y2", 960).attr("stroke", "#434651").attr("stroke-width", 1.3);
chrome.append("line").attr("x1", 4).attr("x2", 1914).attr("y1", bottom + 0.5).attr("y2", bottom + 0.5).attr("stroke", "#434651").attr("stroke-width", 1.3);
chrome.append("text").attr("x", right + 14).attr("y", 22).attr("dy", "0.35em").attr("fill", "#50535e").attr("font-size", 14).attr("letter-spacing", "1px").text("USD");

const tags = svg.append("g").attr("font-family", "Inter, sans-serif").attr("font-size", 14).attr("letter-spacing", "1px").attr("text-anchor", "start");
function tag(cy, txt, bg, h = 21) {
  tags.append("rect").attr("x", right).attr("y", cy - h/2).attr("width", 94).attr("height", h).attr("rx", 3).attr("fill", bg);
  tags.append("text").attr("x", right + 14).attr("y", cy).attr("dy", "0.35em").attr("fill", "white").text(txt);
}
[levelValues[0], levelValues[1], levelValues[2], levelValues[3], levelValues[5], levelValues[6]].forEach(v => tag(ys.apply(v), v.toFixed(2), INK));
tag(ys.apply(redLevel), redLevel.toFixed(2), "#f23645");
const lastClose = candles[candles.length - 1][4];
const lastTop = ys.apply(lastClose) - 11.5;
tags.append("rect").attr("x", right).attr("y", lastTop).attr("width", 94).attr("height", 57.5).attr("rx", 3).attr("fill", "#f44336");
lastTagLines.forEach((t, i) => tags.append("text").attr("x", right + 14).attr("y", lastTop + 11.5 + i * 18).attr("dy", "0.35em").attr("fill", i === 2 ? "#ffd6d2" : "white").text(t));
tag(lastTop + 57.5 + 1.5 + 10.5, levelValues[4].toFixed(2), INK);

// ---------- legend ----------
const last = candles[candles.length - 1];
const red = "#f23645";
const lg = d3.select("#legend");
const l1 = lg.append("div");
l1.append("span").text(legendTitle);
[["O", last[1]], ["H", last[2]], ["B", last[3]], ["C", last[4]]].forEach(([k, v]) => {
  const s = l1.append("span");
  s.append("span").attr("class", "k").text(k);
  s.append("span").attr("class", "k").style("color", red).text(v.toFixed(2));
});
l1.append("span").style("color", red).text(changeText);
const l2 = lg.append("div");
l2.append("span").text(ichiTitle);
const ichiColors = ["#2962ff", "#b2242c", "#43a047", "#2962ff", INK];
ichiValues.forEach((v, i) => l2.append("span").style("color", ichiColors[i]).text(v));
const l3 = lg.append("div");
l3.append("span").text(maTitle);
l3.append("span").style("color", "#ff9800").text(maValue);
</script></body></html>
